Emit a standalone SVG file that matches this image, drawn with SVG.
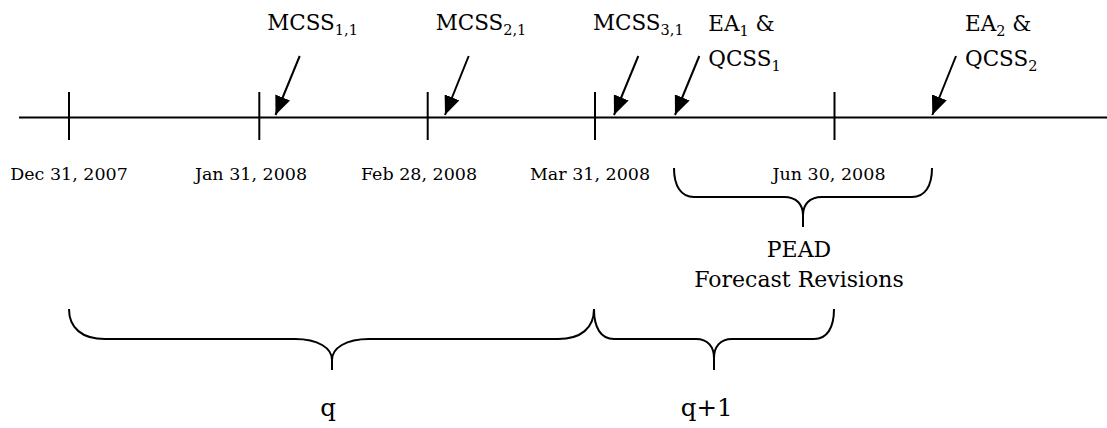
<svg xmlns="http://www.w3.org/2000/svg" width="1107" height="428" viewBox="0 0 1107 428">
<style>
text{font-family:"DejaVu Serif","Liberation Serif",serif;fill:#000}
.date{font-size:17.5px;text-anchor:middle}
.lbl{font-size:21.5px}
.sub{font-size:14.5px}
.big{font-size:22px;text-anchor:middle}
.q{font-size:24.5px;text-anchor:middle}
.ln{stroke:#000;stroke-width:2;fill:none}
.br{stroke:#000;stroke-width:2;fill:none}
.arr{stroke:#000;stroke-width:2;fill:none;marker-end:url(#ah)}
</style>
<defs>
<marker id="ah" markerUnits="userSpaceOnUse" markerWidth="20" markerHeight="16" viewBox="0 0 20 16" refX="19" refY="8" orient="auto">
<path d="M0,0 L19,8 L0,16 Z" fill="#000"/>
</marker>
</defs>
<rect width="1107" height="428" fill="#fff"/>
<g id="timeline">
<line class="ln" x1="19" y1="117.5" x2="1107" y2="117.5"/>
<line class="ln" x1="69" y1="92" x2="69" y2="140"/>
<line class="ln" x1="259.3" y1="92" x2="259.3" y2="140"/>
<line class="ln" x1="427.7" y1="92" x2="427.7" y2="140"/>
<line class="ln" x1="595" y1="92" x2="595" y2="140"/>
<line class="ln" x1="834.5" y1="92" x2="834.5" y2="140"/>
</g>
<g id="dates">
<text class="date" x="69" y="180">Dec 31, 2007</text>
<text class="date" x="251" y="180">Jan 31, 2008</text>
<text class="date" x="419" y="180">Feb 28, 2008</text>
<text class="date" x="590" y="180">Mar 31, 2008</text>
<text class="date" x="829" y="180">Jun 30, 2008</text>
</g>
<g id="mcss11"><text class="lbl" x="267.3" y="30">MCSS<tspan class="sub" dy="5">1,1</tspan></text></g>
<g id="mcss21"><text class="lbl" x="435.7" y="30">MCSS<tspan class="sub" dy="5">2,1</tspan></text></g>
<g id="mcss31"><text class="lbl" x="593" y="30">MCSS<tspan class="sub" dy="5">3,1</tspan></text></g>
<g id="ea1">
<text class="lbl" x="708.3" y="31">EA<tspan class="sub" dy="5">1</tspan><tspan dy="-5"> &amp;</tspan></text>
<text class="lbl" x="708.3" y="66">QCSS<tspan class="sub" dy="5">1</tspan></text>
</g>
<g id="ea2">
<text class="lbl" x="965" y="31">EA<tspan class="sub" dy="5">2</tspan><tspan dy="-5"> &amp;</tspan></text>
<text class="lbl" x="965" y="66">QCSS<tspan class="sub" dy="5">2</tspan></text>
</g>
<g id="connectors">
<line class="arr" x1="299.7" y1="56" x2="275.5" y2="115"/>
<line class="arr" x1="468.7" y1="56" x2="445" y2="115"/>
<line class="arr" x1="638.3" y1="56" x2="614" y2="115"/>
<line class="arr" x1="699.3" y1="56" x2="675" y2="115"/>
<line class="arr" x1="956" y1="56" x2="932.3" y2="115"/>
</g>
<g id="pead-brace">
<path class="br" d="M674,168 C674,186 681,197 694,197 L784,197 C797,197 803,205 803,215 L803,227 M803,215 C803,205 809,197 822,197 L912,197 C925,197 932,186 932,168"/>
</g>
<g id="pead">
<text class="big" x="799" y="257">PEAD</text>
<text class="big" x="799" y="287">Forecast Revisions</text>
</g>
<g id="q-brace">
<path class="br" d="M69,309 C69,328 82,339 105,339 L295,339 C318,339 332,348 332,360 L332,370 M332,360 C332,348 346,339 369,339 L558,339 C581,339 594,328 594,309"/>
</g>
<g id="q1-brace">
<path class="br" d="M594,309 C594,328 601,339 614,339 L696,339 C708,339 714,347 714,358 L714,370 M714,358 C714,347 720,339 732,339 L814,339 C827,339 834,328 834,309"/>
</g>
<g id="q"><text class="q" x="328" y="416">q</text></g>
<g id="q1"><text class="q" x="706.7" y="416">q+1</text></g>
</svg>
